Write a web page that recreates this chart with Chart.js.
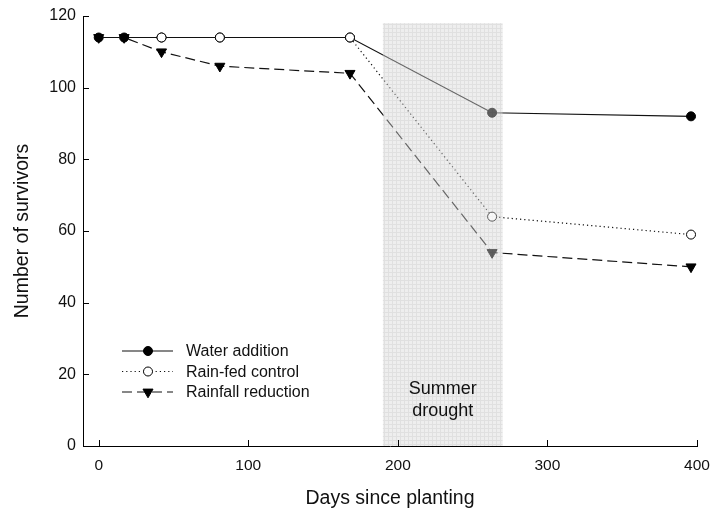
<!DOCTYPE html>
<html><head><meta charset="utf-8">
<script src="https://cdn.jsdelivr.net/npm/chart.js@4/dist/chart.umd.min.js"></script>
<style>html,body{margin:0;padding:0;background:#fff;} canvas{display:block;}</style>
</head><body>
<canvas id="c" width="714" height="521"></canvas>
<script>
// ---- data ----
const waterDays = [0, 17, 42, 81, 168, 263, 396];
const waterSurvivors = [114, 114, 114, 114, 114, 93, 92];
const controlDays = [42, 81, 168, 263, 396];
const controlSurvivors = [114, 114, 114, 64, 59];
const reductionDays = [0, 17, 42, 81, 168, 263, 396];
const reductionSurvivors = [114, 114, 110, 106, 104, 54, 50];
const seriesLabels = ['Water addition', 'Rain-fed control', 'Rainfall reduction'];
const xTickValues = [0, 100, 200, 300, 400];
const yTickValues = [0, 20, 40, 60, 80, 100, 120];
const droughtStart = 190, droughtEnd = 270, droughtTop = 118;
const droughtLabel = ['Summer', 'drought'];
const xTitle = 'Days since planting';
const yTitle = 'Number of survivors';

const FONT = "'Liberation Sans', Arial, Helvetica, sans-serif";
const toPts = (xs, ys) => xs.map((x, i) => ({x: x, y: ys[i]}));

// shading pattern
const pc = document.createElement('canvas');
pc.width = 4; pc.height = 4;
const pctx = pc.getContext('2d');
pctx.fillStyle = '#eeeeee'; pctx.fillRect(0, 0, 4, 4);
pctx.fillStyle = '#e0e0e0'; pctx.fillRect(0, 0, 4, 1); pctx.fillRect(0, 0, 1, 4);

function shadeRect(chart) {
  const xs = chart.scales.x, ys = chart.scales.y;
  const x0 = xs.getPixelForValue(droughtStart), x1 = xs.getPixelForValue(droughtEnd);
  const y0 = ys.getPixelForValue(droughtTop), y1 = ys.getPixelForValue(0);
  return {x0, x1, y0, y1};
}

const customPlugin = {
  id: 'custom',
  beforeDatasetsDraw(chart) {
    const ctx = chart.ctx, r = shadeRect(chart);
    ctx.save();
    ctx.fillStyle = ctx.createPattern(pc, 'repeat');
    ctx.fillRect(r.x0, r.y0, r.x1 - r.x0, r.y1 - r.y0);
    ctx.restore();
  },
  afterDatasetsDraw(chart) {
    const ctx = chart.ctx, r = shadeRect(chart);
    ctx.save();
    ctx.globalAlpha = 0.4;
    ctx.fillStyle = ctx.createPattern(pc, 'repeat');
    ctx.fillRect(r.x0, r.y0, r.x1 - r.x0, r.y1 - r.y0);
    ctx.restore();
    ctx.save();
    ctx.fillStyle = '#111';
    ctx.font = '18px ' + FONT;
    ctx.textAlign = 'center';
    ctx.textBaseline = 'middle';
    const cx = (r.x0 + r.x1) / 2;
    droughtLabel.forEach((t, i) => ctx.fillText(t, cx, 389 + i * 22));
    ctx.restore();
  },
  afterDraw(chart) {
    const ctx = chart.ctx, xs = chart.scales.x, ys = chart.scales.y;
    const a = chart.chartArea;
    ctx.save();
    ctx.strokeStyle = '#000';
    ctx.lineWidth = 1;
    ctx.beginPath();
    xs.ticks.forEach(t => {
      const px = Math.round(xs.getPixelForValue(t.value)) + 0.5;
      ctx.moveTo(px, a.bottom); ctx.lineTo(px, a.bottom - 6);
    });
    ys.ticks.forEach(t => {
      const py = Math.round(ys.getPixelForValue(t.value)) + 0.5;
      ctx.moveTo(a.left, py); ctx.lineTo(a.left + 6, py);
    });
    ctx.stroke();
    ctx.restore();

    // legend
    [0, 1, 2].forEach(i => {
      const ds = chart.data.datasets[i];
      const y = 351 + i * 20.5;
      ctx.save();
      ctx.strokeStyle = ds.borderColor;
      ctx.lineWidth = ds.borderWidth;
      ctx.setLineDash(ds.borderDash || []);
      ctx.beginPath(); ctx.moveTo(122, y); ctx.lineTo(173, y); ctx.stroke();
      ctx.setLineDash([]);
      const mx = 148;
      ctx.fillStyle = ds.pointBackgroundColor;
      ctx.strokeStyle = ds.pointBorderColor;
      ctx.lineWidth = 1;
      ctx.beginPath();
      if (ds.pointStyle === 'triangle') {
        const rr = ds.pointRadius;
        ctx.moveTo(mx, y + rr);
        ctx.lineTo(mx - rr * 0.866, y - rr / 2);
        ctx.lineTo(mx + rr * 0.866, y - rr / 2);
        ctx.closePath();
      } else {
        ctx.arc(mx, y, ds.pointRadius, 0, Math.PI * 2);
      }
      ctx.fill(); ctx.stroke();
      ctx.fillStyle = '#111';
      ctx.font = '16px ' + FONT;
      ctx.textAlign = 'left';
      ctx.textBaseline = 'middle';
      ctx.fillText(ds.label, 186, y + 1);
      ctx.restore();
    });
  }
};

new Chart(document.getElementById('c'), {
  type: 'line',
  data: {
    datasets: [
      {
        label: seriesLabels[0], data: toPts(waterDays, waterSurvivors), order: 3,
        borderColor: '#111', borderWidth: 1.2, pointStyle: 'circle', pointRadius: 4.5,
        pointBackgroundColor: '#000', pointBorderColor: '#000', pointBorderWidth: 1
      },
      {
        label: seriesLabels[1], data: toPts(controlDays, controlSurvivors), order: 2,
        borderColor: '#111', borderWidth: 1.2, borderDash: [1.2, 3], pointStyle: 'circle', pointRadius: 4.5,
        pointBackgroundColor: '#fff', pointBorderColor: '#000', pointBorderWidth: 1
      },
      {
        label: seriesLabels[2], data: toPts(reductionDays, reductionSurvivors), order: 1,
        borderColor: '#111', borderWidth: 1.2, borderDash: [10, 5], pointStyle: 'triangle', pointRadius: 5.8,
        pointRotation: 180, pointBackgroundColor: '#000', pointBorderColor: '#000', pointBorderWidth: 1
      }
    ]
  },
  options: {
    responsive: false,
    animation: false,
    devicePixelRatio: 1,
    layout: {padding: {left: 0, right: 17, top: 16, bottom: 0}},
    plugins: {legend: {display: false}, tooltip: {enabled: false}},
    elements: {line: {tension: 0}},
    scales: {
      x: {
        type: 'linear', min: -10.5, max: 400,
        afterBuildTicks: s => { s.ticks = xTickValues.map(v => ({value: v})); },
        afterFit: s => { s.height = 75; s.paddingRight = 0; s.paddingLeft = 0; },
        grid: {display: false, drawTicks: false},
        border: {display: true, color: '#000', width: 1},
        ticks: {color: '#111', font: {family: FONT, size: 15.5}, padding: 10, maxRotation: 0},
        title: {display: true, text: xTitle, color: '#111', font: {family: FONT, size: 19.5}, padding: {top: 0, bottom: 11}}
      },
      y: {
        type: 'linear', min: 0, max: 120,
        afterBuildTicks: s => { s.ticks = yTickValues.map(v => ({value: v})); },
        afterFit: s => { s.width = 83; s.paddingTop = 0; s.paddingBottom = 0; },
        grid: {display: false, drawTicks: false},
        border: {display: true, color: '#000', width: 1},
        ticks: {color: '#111', font: {family: FONT, size: 16}, padding: 7},
        title: {display: true, text: yTitle, color: '#111', font: {family: FONT, size: 19.5}, padding: {top: 11, bottom: 0}}
      }
    }
  },
  plugins: [customPlugin]
});
</script>
</body></html>
